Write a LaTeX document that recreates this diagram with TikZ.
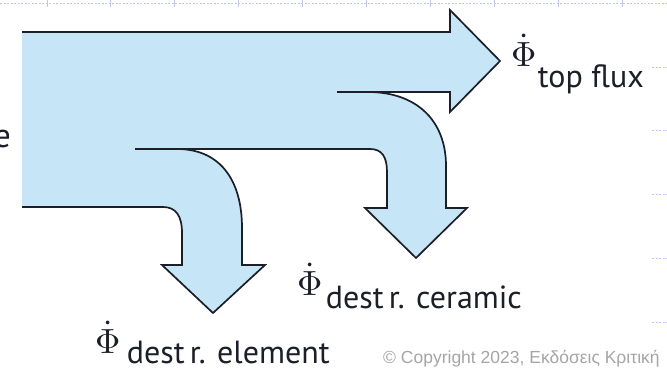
\documentclass[tikz,border=0pt]{standalone}
\usepackage{fontspec}
\setsansfont{PT Sans}
\newfontfamily\wmfont{Liberation Sans}
\usepackage{tikz}
\usetikzlibrary{positioning}
\definecolor{fluxblue}{RGB}{198,229,247}
\definecolor{edgeink}{RGB}{28,30,40}
\definecolor{gridlav}{RGB}{190,198,236}
\definecolor{wmgrey}{RGB}{165,165,165}
\newcommand{\phidot}{\scalebox{3.5}{$\dot{\Phi}$}}

\begin{document}
\begin{tikzpicture}[
  x=1pt, y=-1pt,
  band/.style={fill=fluxblue},
  edge/.style={draw=edgeink, line width=1.7pt, line join=miter},
  phi/.style={inner sep=0pt, anchor=base west, text=edgeink},
  lbl/.style={inner sep=0pt, anchor=base west, font=\sffamily\fontsize{32}{32}\selectfont, text=edgeink},
  guide/.style={draw=gridlav, line width=0.6pt, dash pattern=on 2pt off 1.5pt},
]
\useasboundingbox (0,0) rectangle (667,370);

% page guides
\draw[guide] (0,3) -- (667,3);
\foreach \gx in {47,110,174,238,302,366,430,494,558,622}
  \draw[guide, solid] (\gx,0) -- (\gx,7);
\foreach \gy in {67,130,194,258,322}
  \draw[guide] (652,\gy) -- (667,\gy);

% flux band
\path[band] (22,207) -- (163,207) .. controls (176,207) and (182,216) .. (182,233)
  -- (182,265) -- (162,265) -- (213,313) -- (265,265) -- (242,265) -- (242,228)
  .. controls (242,180) and (220,149) .. (177,149) -- (370,149)
  .. controls (382,149) and (387,157) .. (387,172) -- (387,208) -- (365,208)
  -- (416,258) -- (467,208) -- (446,208) -- (446,166)
  .. controls (446,120) and (416,92) .. (368,92) -- (450,92) -- (450,112)
  -- (500,61) -- (450,10) -- (450,32) -- (22,32) -- cycle;
\draw[edge] (22,207) -- (163,207) .. controls (176,207) and (182,216) .. (182,233)
  -- (182,265) -- (162,265) -- (213,313) -- (265,265) -- (242,265) -- (242,228)
  .. controls (242,180) and (220,149) .. (177,149) -- (370,149)
  .. controls (382,149) and (387,157) .. (387,172) -- (387,208) -- (365,208)
  -- (416,258) -- (467,208) -- (446,208) -- (446,166)
  .. controls (446,120) and (416,92) .. (368,92) -- (450,92) -- (450,112)
  -- (500,61) -- (450,10) -- (450,32) -- (22,32);
\draw[edge] (135,149) -- (177,149);
\draw[edge] (337,92) -- (368,92);

% labels
\node[lbl, anchor=base east, font=\sffamily\fontsize{34}{34}\selectfont] (cutword) at (11,147) {e};
\node[phi] (phitop) at (511,66) {\phidot};
\node[lbl] (subtop) at ([xshift=1pt, yshift=-21pt]phitop.base east) {top flux};
\node[phi] (phicer) at (297,295) {\phidot};
\node[lbl] (subcer) at ([xshift=3pt, yshift=-13pt]phicer.base east) {dest\,r. ceramic};
\node[phi] (phiel) at (95,353) {\phidot};
\node[lbl] (subel) at ([xshift=6pt, yshift=-10pt]phiel.base east) {dest\,r. element};
\node[inner sep=0pt, anchor=base west, font=\wmfont\fontsize{17.5}{17.5}\selectfont, text=wmgrey]
  (copy) at (383,363) {© Copyright 2023, Εκδόσεις Κριτική};
\end{tikzpicture}
\end{document}
